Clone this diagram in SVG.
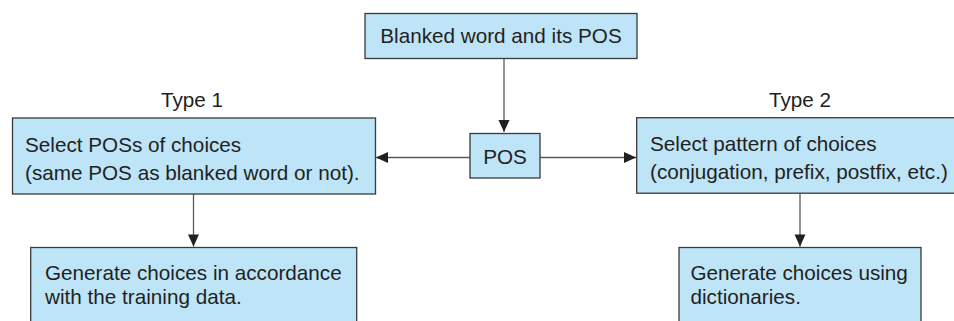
<svg xmlns="http://www.w3.org/2000/svg" width="954" height="321" viewBox="0 0 954 321">
<style>
.box{fill:#bee4f8;stroke:#3a3a3a;stroke-width:1.3}
.t{font-family:"Liberation Sans",Arial,sans-serif;font-size:20.7px;fill:#231f20}
.c{stroke:#5a5a5a;stroke-width:1.3;fill:none}
</style>
<defs>
<marker id="ah" markerUnits="userSpaceOnUse" markerWidth="14" markerHeight="14" viewBox="0 0 14 14" refX="13" refY="7" orient="auto">
<path d="M1,1.5 L13,7 L1,12.5 Z" fill="#231f20"/>
</marker>
</defs>
<g id="connectors">
<line class="c" x1="504" y1="58" x2="504" y2="132" marker-end="url(#ah)"/>
<line class="c" x1="470" y1="157.5" x2="376" y2="157.5" marker-end="url(#ah)"/>
<line class="c" x1="540" y1="157.5" x2="636" y2="157.5" marker-end="url(#ah)"/>
<line class="c" x1="193.5" y1="194" x2="193.5" y2="246.5" marker-end="url(#ah)"/>
<line class="c" x1="800" y1="193" x2="800" y2="246.5" marker-end="url(#ah)"/>
</g>
<g id="top">
<rect class="box" x="365" y="13.5" width="272" height="45"/>
<text class="t" x="501" y="43" text-anchor="middle">Blanked word and its POS</text>
</g>
<g id="pos">
<rect class="box" x="470" y="133.5" width="70" height="44.5"/>
<text class="t" x="505" y="164" text-anchor="middle">POS</text>
</g>
<g id="type1">
<text class="t" x="192" y="107" text-anchor="middle">Type 1</text>
<rect class="box" x="12.5" y="118" width="363" height="76"/>
<text class="t" x="25" y="151.5">Select POSs of choices</text>
<text class="t" x="25" y="180">(same POS as blanked word or not).</text>
</g>
<g id="type2">
<text class="t" x="800" y="107" text-anchor="middle">Type 2</text>
<rect class="box" x="636.7" y="117.7" width="320" height="75.5"/>
<text class="t" x="650" y="151">Select pattern of choices</text>
<text class="t" x="650" y="179">(conjugation, prefix, postfix, etc.)</text>
</g>
<g id="gen1">
<rect class="box" x="30.7" y="247.5" width="326" height="80"/>
<text class="t" x="45" y="280">Generate choices in accordance</text>
<text class="t" x="45" y="303.5">with the training data.</text>
</g>
<g id="gen2">
<rect class="box" x="679" y="247.5" width="242" height="80"/>
<text class="t" x="690.5" y="280">Generate choices using</text>
<text class="t" x="690.5" y="303.5">dictionaries.</text>
</g>
</svg>
